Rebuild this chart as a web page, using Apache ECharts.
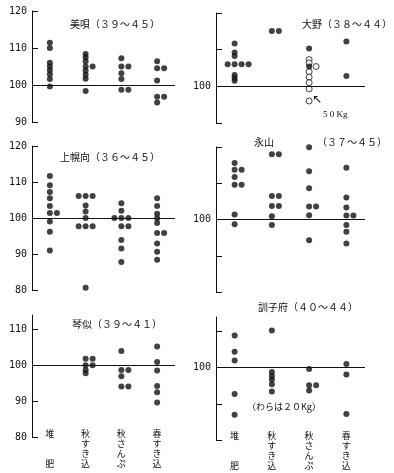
<!DOCTYPE html>
<html>
<head>
<meta charset="utf-8">
<script src="https://cdn.jsdelivr.net/npm/echarts@6/dist/echarts.min.js"></script>
<style>html,body{margin:0;padding:0;background:#fff;}#c{width:394px;height:473px;}</style>
</head>
<body>
<div id="c"></div>
<script>
// ---- data ----
const categories = ['堆肥', '秋すき込', '秋さんぷ', '春すき込'];

const bibai = [            // 美唄 (39~45)
  [111.4, 110, 106, 105, 104, 102.9, 101.6, 99.6],
  [108.4, 107.5, 106.4, 105, 105, 103.9, 102.8, 101.7, 98.4],
  [107.2, 105, 105, 103.2, 101.6, 98.7, 98.7],
  [106.4, 104.5, 104.5, 101.2, 96.8, 96.8, 95.3]
];
const ohno = [             // 大野 (38~44)
  [111.7, 109.2, 108.3, 106, 106, 106, 106, 103.1, 102.3, 101.5],
  [115.1, 115.1],
  [110.3, 105.4],
  [112.2, 102.8]
];
const ohno50 = [           // 大野, 50Kg (open circles)
  [],
  [],
  [107.3, 106.4, 105.4, 104, 102.5, 101, 99.3, 96],
  []
];
const kamihoromui = [      // 上幌向 (36~45)
  [111.7, 109.1, 107.2, 105.5, 103.3, 101.4, 101.4, 99, 96.2, 91],
  [106.1, 106.1, 106.1, 103.5, 101.8, 100, 97.7, 97.7, 97.7, 80.6],
  [104.1, 102, 100, 100, 100, 97.7, 97.7, 93.9, 91.5, 87.8],
  [105.5, 103.3, 101.2, 99.9, 98.6, 95.8, 95.8, 92.9, 90.6, 88.4]
];
const nagayama = [         // 永山 (37~45)
  [115.6, 113.7, 113.7, 111.7, 109.6, 109.6, 101.4, 98.7],
  [118, 118, 106.5, 106.5, 103.7, 103.7, 100.9, 98.5],
  [119.9, 113.3, 108.6, 103.6, 103.6, 101.2, 94.3],
  [114.3, 106.1, 103.3, 101.1, 101.1, 98.5, 96.6, 93.4]
];
const kotoni = [           // 琴似 (39~41)
  [],
  [101.8, 101.8, 100, 100, 98.7, 97.8],
  [104, 98.7, 98.7, 96.9, 94.1, 94.1],
  [105.2, 100.9, 98.5, 94.2, 92.5, 89.6]
];
const kunneppu = [         // 訓子府 (40~44)
  [108.9, 104.4, 102, 92.7, 87],
  [110.3, 98.8, 97.7, 96.7, 95.4, 93.4],
  [99.6, 95.1, 95.1, 93.7],
  [101, 98.1, 87.2]
];

const leftTicks1 = [90, 100, 110, 120];
const leftTicks2 = [80, 90, 100, 110, 120];
const leftTicks3 = [80, 90, 100, 110];
const rightLabels = [100];
const refLine = 100;

// ---- layout ----
const panels = [
  {filled: bibai, open: null, min: 90, max: 120, ticks: leftTicks1, labels: leftTicks1, box: {left: 32, top: 11, width: 143, height: 111}, xLabels: false},
  {filled: ohno, open: ohno50, min: 90, max: 120, ticks: leftTicks1, labels: rightLabels, box: {left: 216, top: 13, width: 149, height: 110}, xLabels: false},
  {filled: kamihoromui, open: null, min: 80, max: 120, ticks: leftTicks2, labels: leftTicks2, box: {left: 32, top: 146, width: 143, height: 144}, xLabels: false},
  {filled: nagayama, open: null, min: 80, max: 120, ticks: leftTicks2, labels: rightLabels, box: {left: 216, top: 147, width: 149, height: 145}, xLabels: false},
  {filled: kotoni, open: null, min: 80, max: 114, ticks: leftTicks3, labels: leftTicks3, box: {left: 32, top: 315, width: 143, height: 122}, xLabels: true, lm: -8},
  {filled: kunneppu, open: null, min: 80, max: 114, ticks: leftTicks3, labels: rightLabels, box: {left: 216, top: 317, width: 149, height: 123}, xLabels: true, lm: -9}
];

const CJK = 'Noto Sans CJK JP';
const INK = '#111';
const STEP = 7;
const slots = [0, 1, -1, 2, -2, 3];

function layoutDots(filledCols, openCols) {
  const filled = [], open = [];
  categories.forEach((c, ci) => {
    const pts = [];
    (filledCols[ci] || []).forEach(v => pts.push({v: v, o: false}));
    ((openCols && openCols[ci]) || []).forEach(v => pts.push({v: v, o: true}));
    const count = {};
    pts.forEach(p => {
      const k = p.v.toFixed(2);
      const n = count[k] || 0;
      count[k] = n + 1;
      const item = {value: [ci, p.v], symbolOffset: [slots[n] * STEP, 0]};
      (p.o ? open : filled).push(item);
    });
  });
  return {filled, open};
}

function vertical(s) {
  const chars = Array.from(s);
  if (chars.length === 2) return chars[0] + '\n\n\n' + chars[1];
  return chars.join('\n');
}

const grid = [], xAxis = [], yAxis = [], series = [];
panels.forEach((p, i) => {
  grid.push(Object.assign({containLabel: false}, p.box));
  xAxis.push({
    type: 'category', gridIndex: i, data: categories, boundaryGap: true,
    axisLine: {show: false}, axisTick: {show: false}, splitLine: {show: false},
    axisLabel: {
      show: p.xLabels, interval: 0, margin: p.lm || 0, fontSize: 9, lineHeight: 10,
      color: INK, fontFamily: CJK, formatter: v => vertical(v)
    }
  });
  yAxis.push({
    type: 'value', gridIndex: i, min: p.min, max: p.max, interval: 10,
    axisLine: {show: true, lineStyle: {color: INK, width: 1}},
    axisTick: {show: true, inside: true, length: 6, customValues: p.ticks, lineStyle: {color: INK, width: 1}},
    splitLine: {show: false},
    axisLabel: {
      show: true, customValues: p.labels, margin: 5, fontSize: 10,
      fontFamily: 'DejaVu Sans Mono', color: INK
    }
  });
  const d = layoutDots(p.filled, p.open);
  series.push({
    type: 'scatter', xAxisIndex: i, yAxisIndex: i, data: d.filled,
    symbol: 'circle', symbolSize: 6, itemStyle: {color: INK}, silent: true,
    markLine: {
      silent: true, symbol: 'none', label: {show: false},
      lineStyle: {color: INK, width: 1, type: 'solid'},
      data: [{yAxis: refLine}]
    }
  });
  if (p.open) {
    series.push({
      type: 'scatter', xAxisIndex: i, yAxisIndex: i, data: d.open, z: 1,
      symbol: 'circle', symbolSize: 6,
      itemStyle: {color: '#fff', borderColor: INK, borderWidth: 1}, silent: true
    });
  }
});

const tStyle = {fontSize: 10, fontWeight: 'normal', color: INK, fontFamily: CJK};
const title = [
  {text: '美唄（３９～４５）', left: 70, top: 19},
  {text: '大野（３８～４４）', left: 302, top: 19},
  {text: '上幌向（３６～４５）', left: 60, top: 152},
  {text: '永山', left: 254, top: 137},
  {text: '（３７～４５）', left: 317, top: 137},
  {text: '琴似（３９～４１）', left: 72, top: 319},
  {text: '訓子府（４０～４４）', left: 258, top: 302}
].map(t => Object.assign({padding: 0, textStyle: tStyle}, t));

const chart = echarts.init(document.getElementById('c'), null, {renderer: 'canvas'});
chart.setOption({
  backgroundColor: '#fff',
  animation: false,
  title: title,
  grid: grid, xAxis: xAxis, yAxis: yAxis, series: series,
  graphic: [
    {type: 'text', left: 312, top: 94, style: {text: '↖', fontSize: 12, fill: INK, fontFamily: 'DejaVu Sans'}},
    {type: 'text', left: 323, top: 110, style: {text: '5 0 Kg', fontSize: 9, fill: INK, fontFamily: 'Liberation Serif'}},
    {type: 'text', left: 247, top: 402, style: {text: '（わらは２０Kg）', fontSize: 9, fill: INK, fontFamily: CJK}}
  ]
});
</script>
</body>
</html>
